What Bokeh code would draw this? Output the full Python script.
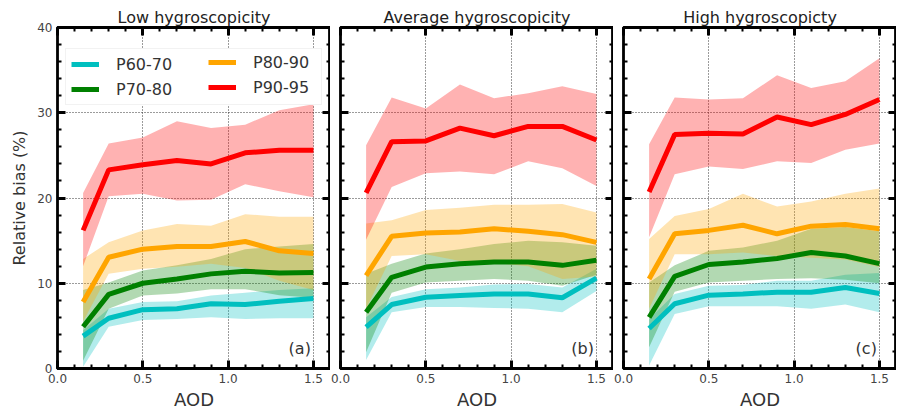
from bokeh.plotting import figure
from bokeh.models import (Range1d, SingleIntervalTicker, LinearAxis, Legend,
                          LegendItem, Label, NumeralTickFormatter,
                          CustomJSTickFormatter)
from bokeh.layouts import row
from bokeh.embed import file_html
from bokeh.resources import INLINE

# ---------------- data ----------------
aod = [0.15, 0.3, 0.5, 0.7, 0.9, 1.1, 1.3, 1.5]
series_names = ["P60-70", "P70-80", "P80-90", "P90-95"]
series_colors = ["#00bfbf", "#008000", "#ffa500", "#ff0000"]
panel_titles = ["Low hygroscopicity", "Average hygroscopicity", "High hygroscopicty"]
panel_tags = ["(a)", "(b)", "(c)"]

# Low hygroscopicity
low_p60_70 = [3.8, 5.9, 6.9, 7.0, 7.6, 7.5, 7.9, 8.2]
low_p60_70_hi = [4.5, 7.0, 7.8, 7.9, 8.55, 8.9, 9.2, 9.4]
low_p60_70_lo = [0.2, 4.9, 5.7, 5.8, 6.0, 5.8, 5.9, 5.9]
low_p70_80 = [4.9, 8.7, 10.0, 10.5, 11.1, 11.4, 11.2, 11.25]
low_p70_80_hi = [9.2, 10.1, 11.5, 12.1, 12.85, 14.0, 14.3, 14.6]
low_p70_80_lo = [0.9, 7.0, 8.55, 8.8, 9.3, 9.3, 8.6, 8.3]
low_p80_90 = [7.8, 13.05, 14.0, 14.3, 14.3, 14.9, 13.8, 13.5]
low_p80_90_hi = [12.85, 14.8, 16.2, 16.95, 16.75, 18.1, 17.8, 17.8]
low_p80_90_lo = [5.5, 11.1, 11.7, 11.95, 12.3, 11.8, 10.3, 9.2]
low_p90_95 = [16.2, 23.3, 23.9, 24.4, 24.0, 25.3, 25.6, 25.6]
low_p90_95_hi = [20.6, 26.4, 27.1, 29.0, 28.2, 28.6, 30.3, 31.0]
low_p90_95_lo = [12.0, 20.2, 20.5, 19.7, 19.8, 21.6, 20.8, 20.1]

# Average hygroscopicity
avg_p60_70 = [4.85, 7.5, 8.35, 8.55, 8.75, 8.75, 8.3, 10.6]
avg_p60_70_hi = [6.0, 8.4, 9.3, 9.5, 9.85, 9.9, 9.5, 11.7]
avg_p60_70_lo = [1.0, 6.6, 7.2, 7.2, 7.1, 7.0, 6.6, 9.1]
avg_p70_80 = [6.6, 10.7, 11.9, 12.3, 12.5, 12.5, 12.1, 12.7]
avg_p70_80_hi = [11.1, 12.3, 13.5, 14.0, 14.6, 15.0, 14.8, 14.4]
avg_p70_80_lo = [1.9, 8.9, 10.1, 10.3, 10.5, 10.3, 9.7, 11.0]
avg_p80_90 = [10.9, 15.5, 15.9, 16.0, 16.4, 16.1, 15.7, 14.8]
avg_p80_90_hi = [17.0, 17.4, 18.6, 18.85, 19.2, 19.2, 19.3, 18.3]
avg_p80_90_lo = [7.0, 13.2, 13.4, 12.6, 12.4, 12.0, 10.5, 10.8]
avg_p90_95 = [20.6, 26.6, 26.7, 28.2, 27.3, 28.4, 28.4, 26.8]
avg_p90_95_hi = [26.2, 31.8, 30.5, 33.3, 31.7, 32.3, 33.1, 32.2]
avg_p90_95_lo = [15.1, 21.3, 22.9, 23.1, 22.8, 24.3, 23.5, 21.4]

# High hygroscopicity
high_p60_70 = [4.7, 7.6, 8.6, 8.75, 8.95, 8.95, 9.5, 8.8]
high_p60_70_hi = [5.8, 8.75, 9.7, 9.8, 10.3, 10.3, 11.0, 11.2]
high_p60_70_lo = [0.35, 6.4, 7.3, 7.3, 7.3, 7.0, 7.5, 6.6]
high_p70_80 = [6.0, 10.8, 12.2, 12.5, 12.9, 13.6, 13.2, 12.3]
high_p70_80_hi = [10.1, 12.1, 13.8, 14.2, 15.0, 16.4, 16.6, 16.1]
high_p70_80_lo = [2.5, 9.0, 10.1, 10.3, 10.5, 10.6, 10.4, 10.0]
high_p80_90 = [10.5, 15.8, 16.2, 16.8, 15.8, 16.7, 16.9, 16.4]
high_p80_90_hi = [15.2, 17.9, 18.7, 20.5, 19.0, 19.6, 20.5, 21.1]
high_p80_90_lo = [7.0, 13.4, 13.4, 13.6, 13.2, 13.0, 12.8, 11.9]
high_p90_95 = [20.7, 27.45, 27.6, 27.5, 29.5, 28.6, 29.8, 31.55]
high_p90_95_hi = [26.3, 31.8, 31.55, 31.7, 34.4, 32.9, 33.7, 36.4]
high_p90_95_lo = [15.4, 22.8, 23.7, 23.4, 24.3, 24.1, 25.65, 26.4]

panels = [
    [(low_p60_70, low_p60_70_lo, low_p60_70_hi),
     (low_p70_80, low_p70_80_lo, low_p70_80_hi),
     (low_p80_90, low_p80_90_lo, low_p80_90_hi),
     (low_p90_95, low_p90_95_lo, low_p90_95_hi)],
    [(avg_p60_70, avg_p60_70_lo, avg_p60_70_hi),
     (avg_p70_80, avg_p70_80_lo, avg_p70_80_hi),
     (avg_p80_90, avg_p80_90_lo, avg_p80_90_hi),
     (avg_p90_95, avg_p90_95_lo, avg_p90_95_hi)],
    [(high_p60_70, high_p60_70_lo, high_p60_70_hi),
     (high_p70_80, high_p70_80_lo, high_p70_80_hi),
     (high_p80_90, high_p80_90_lo, high_p80_90_hi),
     (high_p90_95, high_p90_95_lo, high_p90_95_hi)],
]

FONT = "DejaVu Sans"
TXT = "#333333"
FRAME_W = 273
TOP_B = 27
BOT_B = 46
FRAME_H = 341


def style_axis(ax, show_labels):
    ax.axis_line_color = None
    ax.major_tick_in = 8
    ax.major_tick_out = 0
    ax.minor_tick_in = 4
    ax.minor_tick_out = 0
    ax.major_tick_line_width = 3
    ax.minor_tick_line_width = 2
    ax.major_tick_line_color = "black"
    ax.minor_tick_line_color = "black"
    if show_labels:
        ax.major_label_text_font = FONT
        ax.major_label_text_font_size = "12px"
        ax.major_label_text_color = "#444444"
        ax.major_label_standoff = 5
    else:
        ax.formatter = CustomJSTickFormatter(code="return ''")
        ax.major_label_standoff = 0


def make_panel(i):
    first = i == 0
    lb = 57 if first else 10
    rb = 0
    p = figure(width=lb + FRAME_W + rb, height=TOP_B + FRAME_H + BOT_B,
               x_range=Range1d(0, 1.6), y_range=Range1d(0, 40),
               output_backend="svg", toolbar_location=None,
               title=panel_titles[i],
               min_border_left=lb, min_border_right=rb,
               min_border_top=TOP_B, min_border_bottom=BOT_B,
               background_fill_color="white", border_fill_color="white")
    p.outline_line_color = "black"
    p.outline_line_width = 2.8
    p.title.align = "center"
    p.title.text_font = FONT
    p.title.text_font_size = "16px"
    p.title.text_font_style = "normal"
    p.title.text_color = "#222222"
    p.title.standoff = 1

    xt = SingleIntervalTicker(interval=0.5, num_minor_ticks=5)
    yt = SingleIntervalTicker(interval=10, num_minor_ticks=5)
    p.xaxis.ticker = xt
    p.yaxis.ticker = yt
    p.xaxis.formatter = NumeralTickFormatter(format="0.0")
    style_axis(p.xaxis[0], True)
    style_axis(p.yaxis[0], first)
    p.xaxis.axis_label = "AOD"
    p.xaxis.axis_label_text_font = FONT
    p.xaxis.axis_label_text_font_size = "18px"
    p.xaxis.axis_label_text_font_style = "normal"
    p.xaxis.axis_label_text_color = TXT
    p.xaxis.axis_label_standoff = 3
    if first:
        p.yaxis.axis_label = "Relative bias (%)"
        p.yaxis.axis_label_text_font = FONT
        p.yaxis.axis_label_text_font_size = "16px"
        p.yaxis.axis_label_text_font_style = "normal"
        p.yaxis.axis_label_text_color = TXT
        p.yaxis.axis_label_standoff = 5

    top = LinearAxis(ticker=SingleIntervalTicker(interval=0.5, num_minor_ticks=5))
    style_axis(top, False)
    p.add_layout(top, "above")
    right = LinearAxis(ticker=SingleIntervalTicker(interval=10, num_minor_ticks=5))
    style_axis(right, False)
    p.add_layout(right, "right")

    for g in (p.xgrid, p.ygrid):
        g.grid_line_color = "#222222"
        g.grid_line_dash = "1 2"
        g.grid_line_width = 1
        g.grid_line_alpha = 0.9
    p.xgrid.ticker = xt
    p.ygrid.ticker = yt

    data = panels[i]
    for (mean, lo, hi), col in zip(data, series_colors):
        p.varea(x=aod, y1=lo, y2=hi, fill_color=col, fill_alpha=0.3)
    lines = []
    for (mean, lo, hi), col in zip(data, series_colors):
        r = p.line(x=aod, y=mean, line_color=col, line_width=5)
        lines.append(r)

    if first:
        legA = Legend(items=[LegendItem(label=series_names[0], renderers=[lines[0]]),
                             LegendItem(label=series_names[1], renderers=[lines[1]])],
                      location=(8, 263), padding=5, spacing=5, margin=0,
                      glyph_width=28, glyph_height=20, label_height=20,
                      label_width=200, label_standoff=17,
                      label_text_font=FONT, label_text_font_size="16px",
                      label_text_color=TXT,
                      background_fill_color="white", background_fill_alpha=1.0,
                      border_line_color="#e6e6e6", border_line_width=1)
        legB = Legend(items=[LegendItem(label=series_names[2], renderers=[lines[2]]),
                             LegendItem(label=series_names[3], renderers=[lines[3]])],
                      location=(151, 271), padding=5, spacing=5, margin=0,
                      glyph_width=28, glyph_height=20, label_height=20,
                      label_standoff=17,
                      label_text_font=FONT, label_text_font_size="16px",
                      label_text_color=TXT,
                      background_fill_alpha=0.0, border_line_color=None)
        p.add_layout(legA, "center")
        p.add_layout(legB, "center")

    p.add_layout(Label(x=1.485, y=2.3, text=panel_tags[i], text_align="right",
                       text_baseline="alphabetic", text_font=FONT,
                       text_font_size="16px", text_color=TXT))
    return p


figs = [make_panel(i) for i in range(3)]
layout = row(*figs, spacing=0)
open("out.html", "w").write(file_html(layout, INLINE))
